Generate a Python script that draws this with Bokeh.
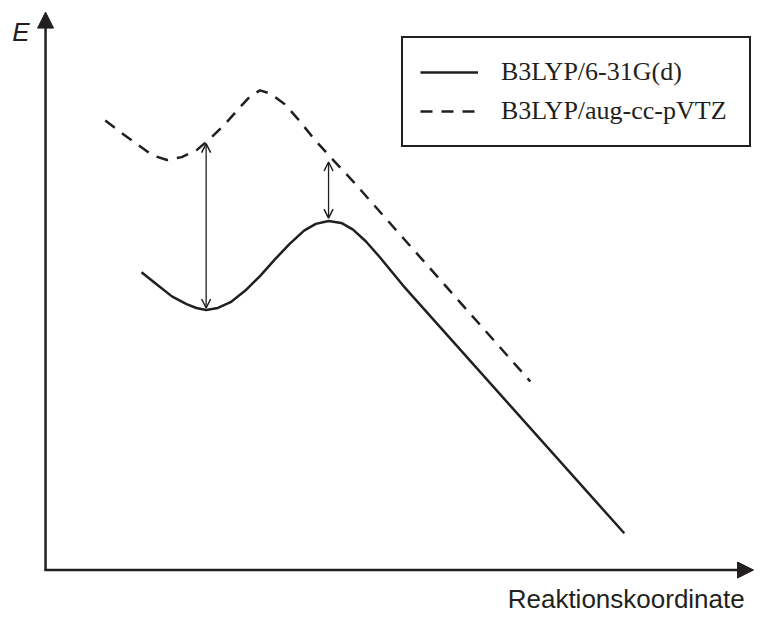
from bokeh.plotting import figure
from bokeh.models import (Range1d, Arrow, NormalHead, OpenHead, Label, Legend,
                          LegendItem, ColumnDataSource)
from bokeh.embed import file_html
from bokeh.resources import INLINE

INK = "#231f20"

# Reaction coordinate (x) and energy (E) values
solid_x = [98, 114, 129, 144, 154, 164, 176, 189, 204, 219, 234, 249, 264, 276,
           289, 302, 314, 327, 341, 354, 367, 374, 591]
solid_e = [308, 295, 283, 275, 271, 269, 271, 277, 289, 304, 321, 337, 351, 358,
           361, 359, 352, 340, 324, 308, 292, 284, 38]

dashed_x = [61, 79, 94, 109, 124, 139, 154, 169, 184, 199, 209, 219, 229, 244,
            259, 274, 291, 314, 334, 495]
dashed_e = [465, 451, 440, 429, 424, 427, 434, 447, 462, 479, 490, 496, 493, 482,
            465, 446, 427, 402, 379, 195]

# energy differences marked by double arrows
gap_x = [164, 289]
gap_low = [271, 364]
gap_high = [441, 422]

# axis extents
x_axis_end = 723
y_axis_end = 577

labels = ["B3LYP/6-31G(d)", "B3LYP/aug-cc-pVTZ"]
x_title = "Reaktionskoordinate"
y_title = "E"

p = figure(width=755, height=614, x_range=Range1d(-46, 725), y_range=Range1d(-46, 589),
           x_axis_type=None, y_axis_type=None, toolbar_location=None,
           output_backend="svg", min_border=0)
p.outline_line_color = None
p.background_fill_color = "white"

r1 = p.line(solid_x, solid_e, line_color=INK, line_width=2.5)
r2 = p.line(dashed_x, dashed_e, line_color=INK, line_width=2.5, line_dash="12 9")

# axes with arrow heads
p.add_layout(Arrow(x_start=-1, y_start=0, x_end=x_axis_end, y_end=0,
                   line_color=INK, line_width=2.5,
                   end=NormalHead(size=16, fill_color=INK, line_color=INK, line_width=1)))
p.add_layout(Arrow(x_start=0, y_start=-1, x_end=0, y_end=y_axis_end,
                   line_color=INK, line_width=2.5,
                   end=NormalHead(size=16, fill_color=INK, line_color=INK, line_width=1)))

src = ColumnDataSource(dict(x=gap_x, y0=gap_low, y1=gap_high))
p.add_layout(Arrow(x_start="x", y_start="y0", x_end="x", y_end="y1", source=src,
                   line_color=INK, line_width=1.3,
                   start=OpenHead(size=9, line_color=INK, line_width=1.5),
                   end=OpenHead(size=9, line_color=INK, line_width=1.5)))

p.add_layout(Label(x=-34, y=556, text=y_title, text_font="Liberation Sans",
                   text_font_style="italic", text_font_size="26px", text_color=INK,
                   text_baseline="alphabetic"))
p.add_layout(Label(x=714, y=-30, text=x_title, text_font="Liberation Sans",
                   text_font_size="26px", text_color=INK, text_align="right",
                   text_baseline="alphabetic"))

legend = Legend(items=[LegendItem(label=labels[0], renderers=[r1]),
                       LegendItem(label=labels[1], renderers=[r2])],
                location=(401, 467), margin=0, padding=17, spacing=5,
                glyph_width=58, glyph_height=34, label_height=34, label_standoff=23,
                label_width=231,
                label_text_font="Liberation Serif", label_text_font_size="26px",
                label_text_color=INK, border_line_color=INK, border_line_width=2,
                border_line_alpha=1,
                background_fill_color="white", background_fill_alpha=1)
p.add_layout(legend)

open("out.html", "w").write(file_html(p, INLINE))
